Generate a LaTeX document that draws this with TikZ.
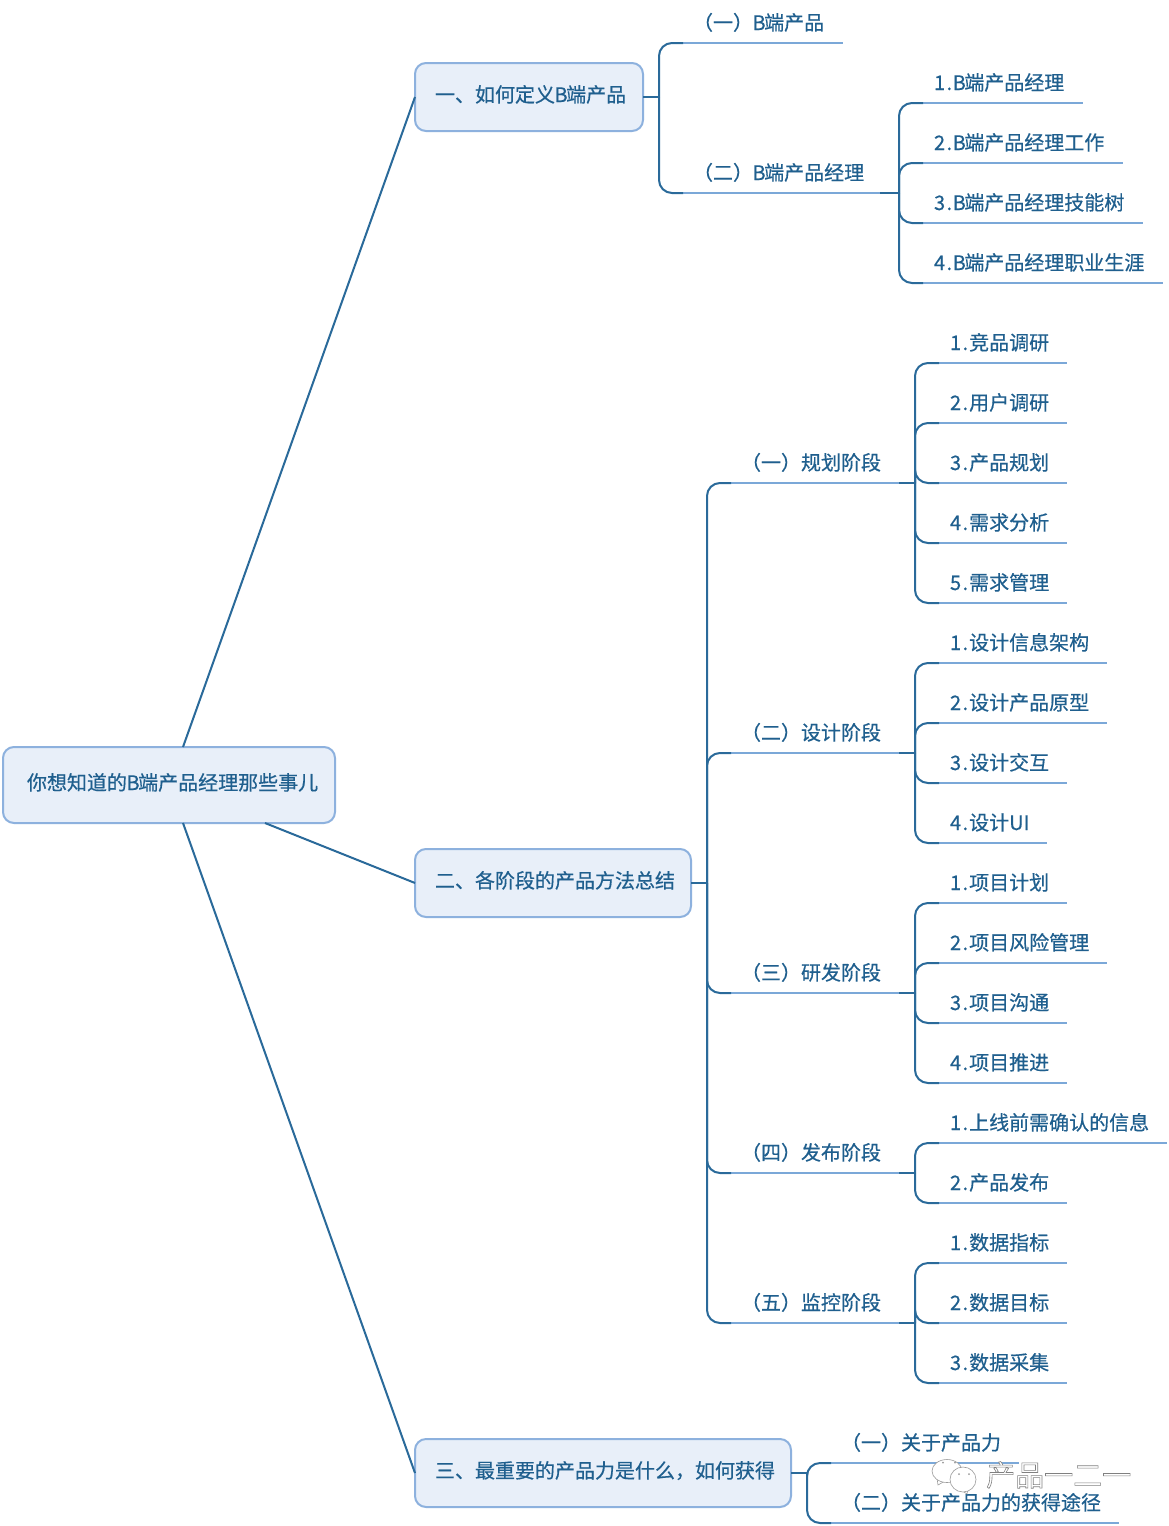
\documentclass[tikz,border=0pt]{standalone}
\usepackage{fontspec}
\usetikzlibrary{calc}
\setmainfont[FakeBold=0.5]{Noto Sans CJK SC}
\newfontfamily\markfont{Noto Sans CJK SC}
\definecolor{inkblue}{HTML}{1F5F8E}
\definecolor{darkline}{HTML}{2A6A9A}
\definecolor{lightline}{HTML}{7BA8D8}
\definecolor{boxfill}{HTML}{E8EFF9}
\definecolor{boxedge}{HTML}{8DB1DE}
\definecolor{markedge}{HTML}{9A9A9A}
\tikzset{
  boxnode/.style={draw=boxedge,line width=2pt,fill=boxfill,rounded corners=11pt,anchor=north west,
    outer sep=0pt,inner xsep=0pt,inner ysep=0pt,align=left,text=inkblue,font=\fontsize{20}{20}\selectfont},
  topicnode/.style={anchor=south west,outer sep=0pt,inner xsep=0pt,inner ysep=0pt,align=left,text=inkblue,
    font=\fontsize{20}{20}\selectfont,text height=19.5pt,text depth=13pt},
  uline/.style={draw=lightline,line width=2pt},
  conn/.style={draw=darkline,line width=2pt},
  kidline/.style={conn,rounded corners=13pt},
  markshape/.style={draw=markedge,line width=0.6pt,fill=white},
  markdot/.style={fill=markedge,draw=none},
}
% \topic{name}{x start}{x end}{y of line}{text}
\newcommand{\topic}[5]{%
  \pgfmathsetmacro{\tw}{#3-#2-11}%
  \node[topicnode,text width=\tw pt,xshift=11pt] (#1) at (#2,#4) {#5};
  \coordinate (#1L) at (#2,#4);
  \coordinate (#1R) at (#3,#4);
  \draw[uline] (#1L) -- (#1R);
}
% \kid{junction}{child}
\newcommand{\kid}[2]{\draw[kidline] (#1) |- (#2L);}
\newcommand{\nm}[1]{#1\kern1.5pt.\kern1pt}
\newcommand{\bB}{\kern-0.5pt B\kern-1.5pt}
\newcommand{\pn}[1]{\hspace*{-1pt}（#1）}
\begin{document}
\begin{tikzpicture}[x=1pt,y=-1pt]
\useasboundingbox[fill=white] (0,0) rectangle (1168,1526);

% boxes
\node[boxnode,minimum width=332pt,minimum height=76pt,text width=332pt,text height=43pt,text depth=33pt] (root) at (3,747) {\hspace*{24pt}你想知道的\bB 端产品经理那些事儿};
\node[boxnode,minimum width=228pt,minimum height=68pt,text width=228pt,text height=39pt,text depth=29pt] (boxA) at (415,63) {\hspace*{20pt}一、如何定义\bB 端产品};
\node[boxnode,minimum width=276pt,minimum height=68pt,text width=276pt,text height=39pt,text depth=29pt] (boxB) at (415,849) {\hspace*{20pt}二、各阶段的产品方法总结};
\node[boxnode,minimum width=376pt,minimum height=68pt,text width=376pt,text height=39pt,text depth=29pt] (boxC) at (415,1439) {\hspace*{20pt}三、最重要的产品力是什么，如何获得};

\draw[conn] ($(root.north west)+(180,0)$) -- (boxA.west);
\draw[conn] ($(root.south west)+(262,0)$) -- (boxB.west);
\draw[conn] ($(root.south west)+(180,0)$) -- (boxC.west);

% branch A
\coordinate (jA) at (659,97);
\coordinate (jAb) at (899,193);
\topic{Aa}{683}{843}{43}{\pn{一}\bB 端产品}
\topic{Ab}{683}{880}{193}{\pn{二}\bB 端产品经理}
\topic{Ab1}{923}{1083}{103}{\nm{1}\bB 端产品经理}
\topic{Ab2}{923}{1123}{163}{\nm{2}\bB 端产品经理工作}
\topic{Ab3}{923}{1143}{223}{\nm{3}\bB 端产品经理技能树}
\topic{Ab4}{923}{1163}{283}{\nm{4}\bB 端产品经理职业生涯}
\draw[conn] (boxA.east) -- (jA);
\kid{jA}{Aa}\kid{jA}{Ab}
\draw[conn] (AbR) -- (jAb);
\kid{jAb}{Ab1}\kid{jAb}{Ab2}\kid{jAb}{Ab3}\kid{jAb}{Ab4}

% branch B
\coordinate (jB) at (707,883);
\draw[conn] (boxB.east) -- (jB);
\topic{Ba}{731}{899}{483}{\pn{一}规划阶段}
\topic{Bb}{731}{899}{753}{\pn{二}设计阶段}
\topic{Bc}{731}{899}{993}{\pn{三}研发阶段}
\topic{Bd}{731}{899}{1173}{\pn{四}发布阶段}
\topic{Be}{731}{899}{1323}{\pn{五}监控阶段}
\kid{jB}{Ba}\kid{jB}{Bb}\kid{jB}{Bc}\kid{jB}{Bd}\kid{jB}{Be}

\coordinate (jBa) at (915,483);
\draw[conn] (BaR) -- (jBa);
\topic{Ba1}{939}{1067}{363}{\nm{1}竞品调研}
\topic{Ba2}{939}{1067}{423}{\nm{2}用户调研}
\topic{Ba3}{939}{1067}{483}{\nm{3}产品规划}
\topic{Ba4}{939}{1067}{543}{\nm{4}需求分析}
\topic{Ba5}{939}{1067}{603}{\nm{5}需求管理}
\kid{jBa}{Ba1}\kid{jBa}{Ba2}\kid{jBa}{Ba3}\kid{jBa}{Ba4}\kid{jBa}{Ba5}

\coordinate (jBb) at (915,753);
\draw[conn] (BbR) -- (jBb);
\topic{Bb1}{939}{1107}{663}{\nm{1}设计信息架构}
\topic{Bb2}{939}{1107}{723}{\nm{2}设计产品原型}
\topic{Bb3}{939}{1067}{783}{\nm{3}设计交互}
\topic{Bb4}{939}{1047}{843}{\nm{4}设计UI}
\kid{jBb}{Bb1}\kid{jBb}{Bb2}\kid{jBb}{Bb3}\kid{jBb}{Bb4}

\coordinate (jBc) at (915,993);
\draw[conn] (BcR) -- (jBc);
\topic{Bc1}{939}{1067}{903}{\nm{1}项目计划}
\topic{Bc2}{939}{1107}{963}{\nm{2}项目风险管理}
\topic{Bc3}{939}{1067}{1023}{\nm{3}项目沟通}
\topic{Bc4}{939}{1067}{1083}{\nm{4}项目推进}
\kid{jBc}{Bc1}\kid{jBc}{Bc2}\kid{jBc}{Bc3}\kid{jBc}{Bc4}

\coordinate (jBd) at (915,1173);
\draw[conn] (BdR) -- (jBd);
\topic{Bd1}{939}{1167}{1143}{\nm{1}上线前需确认的信息}
\topic{Bd2}{939}{1067}{1203}{\nm{2}产品发布}
\kid{jBd}{Bd1}\kid{jBd}{Bd2}

\coordinate (jBe) at (915,1323);
\draw[conn] (BeR) -- (jBe);
\topic{Be1}{939}{1067}{1263}{\nm{1}数据指标}
\topic{Be2}{939}{1067}{1323}{\nm{2}数据目标}
\topic{Be3}{939}{1067}{1383}{\nm{3}数据采集}
\kid{jBe}{Be1}\kid{jBe}{Be2}\kid{jBe}{Be3}

% branch C
\coordinate (jC) at (807,1473);
\draw[conn] (boxC.east) -- (jC);
\topic{Ca}{831}{1019}{1463}{\pn{一}关于产品力}
\topic{Cb}{831}{1119}{1523}{\pn{二}关于产品力的获得途径}
\kid{jC}{Ca}\kid{jC}{Cb}

% watermark
\draw[markshape] (937,1478) -- (938,1485) -- (945,1481);
\draw[markshape] (947,1471) ellipse (15 and 11.5);
\fill[markdot] (943,1462.5) circle (1) (955,1462.5) circle (1);
\draw[markshape] (961,1490) -- (967,1494) -- (968,1489);
\draw[markshape] (963,1479.5) ellipse (13 and 12.5);
\fill[markdot] (959,1474) circle (1) (969,1474) circle (1);
\node[anchor=west,inner sep=0pt,font=\markfont\fontsize{29}{29}\selectfont] (mark) at (986,1475)
  {\special{pdf:code q 2 Tr 0.6 w 0.5 0.5 0.5 RG 1 1 1 rg}产品一二一\special{pdf:code Q}};
\end{tikzpicture}
\end{document}
